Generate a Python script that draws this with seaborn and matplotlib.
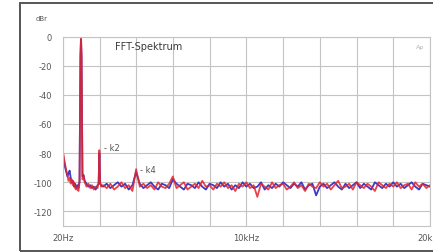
"""FFT spectrum recreation."""

import matplotlib

matplotlib.use("Agg")
import matplotlib.pyplot as plt
import numpy as np
import pandas as pd
import seaborn as sns
from matplotlib.patches import Rectangle

# ---- data (frequency in kHz, level in dBr) ----
low_khz = [0.02, 0.08, 0.14, 0.2, 0.26, 0.32, 0.38, 0.44, 0.5, 0.56,
           0.62, 0.68, 0.74, 0.8, 0.86, 0.92, 0.97, 1.0, 1.03, 1.08,
           1.14, 1.2, 1.3, 1.4, 1.5, 1.6, 1.7, 1.8, 1.9, 1.96,
           2.0, 2.04, 2.1]
grid_khz = np.round(np.arange(2.2, 20.01, 0.2), 1)

red_low = [-79, -84, -88, -92, -95, -99, -97, -101, -98, -102,
           -100, -104, -105, -103, -106, -100, -12, 0, -12, -98,
           -96, -100, -103, -101, -104, -102, -105, -103, -104, -100,
           -78, -100, -103]
blue_low = [-81, -86, -90, -93, -96, -94, -92, -97, -100, -99,
            -103, -101, -104, -102, -104, -99, -14, -2, -14, -96,
            -95, -99, -101, -103, -102, -104, -103, -105, -102, -101,
            -80, -101, -102]

red_grid = [
    -102, -104, -101, -105, -103, -100, -104, -102, -106, -91,
    -103, -101, -104, -102, -105, -100, -103, -104, -101, -96,
    -104, -102, -100, -105, -103, -101, -104, -99, -103, -102,
    -105, -101, -103, -100, -104, -102, -106, -101, -103, -100,
    -104, -102, -110, -101, -103, -105, -100, -104, -102, -101,
    -105, -103, -100, -104, -102, -106, -101, -103, -104, -100,
    -103, -101, -105, -102, -99, -104, -103, -101, -105, -100,
    -102, -104, -101, -103, -106, -100, -102, -104, -101, -103,
    -100, -104, -102, -101, -105, -100, -103, -101, -104, -102,
]
blue_grid = [
    -103, -101, -104, -102, -100, -103, -101, -105, -102, -93,
    -101, -104, -102, -100, -103, -105, -101, -102, -104, -98,
    -101, -103, -105, -101, -102, -104, -100, -103, -105, -101,
    -102, -104, -100, -103, -101, -105, -102, -104, -100, -103,
    -101, -104, -103, -100, -105, -102, -104, -101, -103, -100,
    -102, -104, -101, -103, -100, -105, -102, -101, -109, -103,
    -101, -104, -102, -100, -103, -105, -101, -104, -102, -100,
    -104, -101, -103, -105, -100, -102, -104, -101, -103, -100,
    -103, -101, -104, -102, -100, -103, -105, -101, -102, -103,
]

y_ticks = [0, -20, -40, -60, -80, -100, -120]
y_ticklabels = ["0", "-20", "-40", "-60", "-80", "-100", "-120"]
x_ticklabels = ["20Hz", "", "", "", "", "10kHz", "", "", "", "", "20kHz"]

annotations = [("- k2", 2.25, -76), ("- k4", 4.21, -91.5)]

RED = "#e3232c"
BLUE = "#3b3bc4"
GRID = "#c4c4c4"
TEXT = "#555555"

freq = np.concatenate([low_khz, grid_khz])
spectrum = pd.DataFrame({
    "freq": freq,
    "red": np.concatenate([red_low, red_grid]),
    "blue": np.concatenate([blue_low, blue_grid]),
})

sns.set_style("white")
plt.rcParams["font.family"] = ["DejaVu Sans"]

fig = plt.figure(figsize=(4.33, 2.53), dpi=100)
ax = fig.add_axes([63 / 433, 1 - 227 / 253, 367 / 433, 189.5 / 253])

sns.lineplot(data=spectrum, x="freq", y="blue", color=BLUE, lw=1.3,
             estimator=None, sort=False, ax=ax)
sns.lineplot(data=spectrum, x="freq", y="red", color=RED, lw=1.3,
             estimator=None, sort=False, ax=ax, alpha=0.85)

ax.set_xlim(0.02, 20.0)
ax.set_ylim(-130, 0)
ax.set_xticks(np.linspace(0.02, 20.0, 11))
ax.set_xticklabels(x_ticklabels)
ax.set_yticks(y_ticks)
ax.set_yticklabels(y_ticklabels)
ax.tick_params(length=0, labelsize=6, labelcolor=TEXT)
ax.tick_params(axis="y", pad=8)
ax.tick_params(axis="x", pad=5)
ax.grid(True, color=GRID, lw=0.8)
ax.set_axisbelow(True)
for spine in ax.spines.values():
    spine.set_color(GRID)
    spine.set_linewidth(0.8)
ax.set_xlabel("")
ax.set_ylabel("")

ax.text(4.7, -6.5, "FFT-Spektrum", fontsize=7, color="#3a3a3a",
        ha="center", va="center")
for label, fx, fy in annotations:
    ax.text(fx, fy, label, fontsize=6, color=TEXT, ha="left", va="center")
ax.text(0.985, 0.96, "Ap", transform=ax.transAxes, fontsize=4.5,
        color="#b0b0b0", ha="right", va="top")

fig.text(42 / 433, 1 - 19 / 253, "dBr", fontsize=5, color=TEXT,
         ha="center", va="center")

frame = Rectangle((20 / 433, 1.5 / 253), 1.0, 248 / 253,
                  transform=fig.transFigure, fill=False,
                  edgecolor="#555555", lw=1.4)
fig.add_artist(frame)

fig.savefig("out.png", dpi=100)
plt.close(fig)
